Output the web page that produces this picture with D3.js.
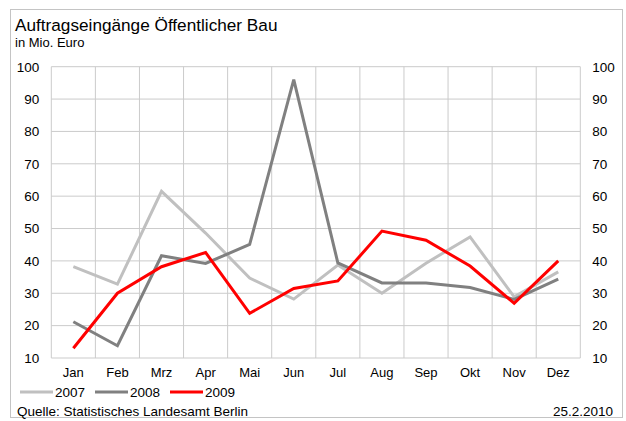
<!DOCTYPE html>
<html>
<head>
<meta charset="utf-8">
<script src="https://cdn.jsdelivr.net/npm/d3@7"></script>
<style>
  html, body { margin: 0; padding: 0; background: #fff; }
  svg { display: block; font-family: "Liberation Sans", Arial, sans-serif; }
</style>
</head>
<body>
<svg id="chart" width="626" height="421"></svg>
<script>
// Monthly order intake for public construction, million euro
const months = ["Jan", "Feb", "Mrz", "Apr", "Mai", "Jun", "Jul", "Aug", "Sep", "Okt", "Nov", "Dez"];
const years = ["2007", "2008", "2009"];
const values2007 = [38.2, 32.8, 61.5, 48.6, 34.7, 28.2, 38.7, 30.0, 39.3, 47.4, 28.9, 36.6];
const values2008 = [21.2, 13.8, 41.6, 39.2, 45.1, 96.0, 39.4, 33.2, 33.2, 31.8, 28.1, 34.4];
const values2009 = [13.0, 30.0, 38.2, 42.6, 23.8, 31.5, 33.8, 49.2, 46.4, 38.4, 26.9, 40.0];
const yTicks = [10, 20, 30, 40, 50, 60, 70, 80, 90, 100];
const colors = ["#c0c0c0", "#808080", "#ff0000"];

const series = [values2007, values2008, values2009];

const svg = d3.select("#chart");
const plot = { left: 51.3, right: 580.3, top: 66.7, bottom: 358 };

// outer frame
svg.append("rect")
  .attr("x", 10.5).attr("y", 9.5)
  .attr("width", 612).attr("height", 408)
  .attr("fill", "none").attr("stroke", "#c4c4c4").attr("stroke-width", 1);

const x = d3.scaleBand().domain(months).range([plot.left, plot.right]);
const y = d3.scaleLinear().domain([10, 100]).range([plot.bottom, plot.top]);

// grid
const grid = svg.append("g").attr("stroke", "#cbcbcb").attr("stroke-width", 1);
grid.selectAll("line.h").data(yTicks).join("line")
  .attr("x1", plot.left).attr("x2", plot.right)
  .attr("y1", d => y(d)).attr("y2", d => y(d));
grid.selectAll("line.v").data(months).join("line")
  .attr("x1", d => x(d)).attr("x2", d => x(d))
  .attr("y1", plot.top).attr("y2", plot.bottom);
grid.append("line")
  .attr("x1", plot.right).attr("x2", plot.right)
  .attr("y1", plot.top).attr("y2", plot.bottom);

// axes (labels only)
const leftAxis = d3.axisLeft(y).tickValues(yTicks).tickSize(0).tickPadding(12);
const rightAxis = d3.axisRight(y).tickValues(yTicks).tickSize(0).tickPadding(12);
const bottomAxis = d3.axisBottom(x).tickSize(0).tickPadding(10);

function styleAxis(size) {
  return g => {
    g.select(".domain").remove();
    g.selectAll("text").attr("font-size", size).attr("fill", "#000")
      .attr("font-family", "Liberation Sans, Arial, sans-serif");
  };
}
svg.append("g").attr("transform", `translate(${plot.left},0)`).call(leftAxis).call(styleAxis(13.5));
svg.append("g").attr("transform", `translate(${plot.right},0)`).call(rightAxis).call(styleAxis(13.5));
svg.append("g").attr("transform", `translate(0,${plot.bottom})`).call(bottomAxis).call(styleAxis(13));

// lines
const line = d3.line()
  .x((d, i) => x(months[i]) + x.bandwidth() / 2)
  .y(d => y(d));
series.forEach((vals, k) => {
  svg.append("path")
    .datum(vals)
    .attr("d", line)
    .attr("fill", "none")
    .attr("stroke", colors[k])
    .attr("stroke-width", 3)
    .attr("stroke-linejoin", "miter");
});

// titles
svg.append("text").attr("x", 15).attr("y", 31)
  .attr("font-size", 17.2).text("Auftragseingänge Öffentlicher Bau");
svg.append("text").attr("x", 15).attr("y", 47)
  .attr("font-size", 13).text("in Mio. Euro");

// legend
const legendX = [20, 95, 170];
years.forEach((yr, k) => {
  const g = svg.append("g").attr("transform", `translate(${legendX[k]},392)`);
  g.append("line").attr("x1", 0).attr("x2", 33).attr("y1", 0).attr("y2", 0)
    .attr("stroke", colors[k]).attr("stroke-width", 3);
  g.append("text").attr("x", 35).attr("y", 0).attr("dy", "0.35em")
    .attr("font-size", 13.5).text(yr);
});

// footer
svg.append("text").attr("x", 17).attr("y", 415.5)
  .attr("font-size", 13.5).text("Quelle: Statistisches Landesamt Berlin");
svg.append("text").attr("x", 613).attr("y", 416)
  .attr("font-size", 13.5).attr("text-anchor", "end").text("25.2.2010");
</script>
</body>
</html>
